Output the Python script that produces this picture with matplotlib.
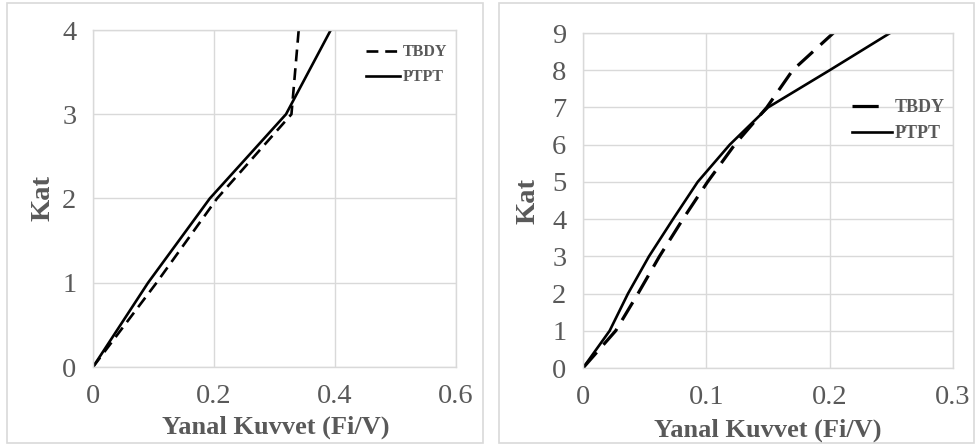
import matplotlib.pyplot as plt
from matplotlib.lines import Line2D
from matplotlib.patches import Rectangle

# ---- data ----
kat_4 = [0, 1, 2, 3, 4]
tbdy_4 = [0.0, 0.105, 0.205, 0.328, 0.340]
ptpt_4 = [0.0, 0.091, 0.193, 0.319, 0.393]

kat_9 = [0, 1, 2, 3, 4, 5, 6, 7, 8, 9]
tbdy_9 = [0.0, 0.0265, 0.0446, 0.062, 0.081, 0.101, 0.123, 0.149, 0.170, 0.203]
ptpt_9 = [0.0, 0.0216, 0.0365, 0.0535, 0.073, 0.093, 0.119, 0.150, 0.200, 0.249]

xticks_4 = [0, 0.2, 0.4, 0.6]
xticklabels_4 = ['0', '0.2', '0.4', '0.6']
xticks_9 = [0, 0.1, 0.2, 0.3]
xticklabels_9 = ['0', '0.1', '0.2', '0.3']

plt.rcParams['font.family'] = ['Liberation Serif', 'DejaVu Serif']

W, H = 975, 448
fig = plt.figure(figsize=(W / 100, H / 100), dpi=100)
fig.patch.set_facecolor('white')

text_gray = '#595959'
grid_gray = '#d9d9d9'


def px_axes(x0, y0, x1, y1):
    # pixel box (top-left origin) -> figure fraction rect
    return [x0 / W, 1 - y1 / H, (x1 - x0) / W, (y1 - y0) / H]


# panel borders
for bx0, bx1 in [(7, 483), (499, 974)]:
    fig.patches.append(Rectangle((bx0 / W, 1 - 443 / H), (bx1 - bx0) / W, 440 / H,
                                 transform=fig.transFigure, fill=False,
                                 edgecolor=grid_gray, linewidth=1.2))

ax1 = fig.add_axes(px_axes(93, 30, 456, 367))
ax2 = fig.add_axes(px_axes(583, 33, 953, 368))

ax1.plot(tbdy_4, kat_4, color='black', lw=1.9, linestyle=(0, (4.5, 2.6)), label='TBDY')
ax1.plot(ptpt_4, kat_4, color='black', lw=1.9, label='PTPT')
ax1.set_xlim(0, 0.6)
ax1.set_ylim(0, 4)
ax1.set_xticks(xticks_4)
ax1.set_xticklabels(xticklabels_4)
ax1.set_yticks(kat_4)

ax2.plot(tbdy_9, kat_9, color='black', lw=2.3, linestyle=(0, (6.5, 3.2)))
ax2.plot(ptpt_9, kat_9, color='black', lw=1.9)
ax2.set_xlim(0, 0.3)
ax2.set_ylim(0, 9)
ax2.set_xticks(xticks_9)
ax2.set_xticklabels(xticklabels_9)
ax2.set_yticks(kat_9)

for ax in (ax1, ax2):
    ax.grid(True, color=grid_gray, linewidth=1.0)
    ax.set_axisbelow(True)
    for s in ax.spines.values():
        s.set_color(grid_gray)
        s.set_linewidth(1.0)
    ax.tick_params(length=0, labelsize=20.5, labelcolor=text_gray, pad=12)

ax1.legend(loc='upper left', bbox_to_anchor=((360 - 93) / 363, 1 - (38 - 30) / 337),
           frameon=False, handlelength=2.1, handletextpad=0.15, labelspacing=0.55,
           borderaxespad=0, prop={'weight': 'bold', 'size': 11.5}, labelcolor=text_gray)

# legend handles for the right panel: one long dash, then a gap before the text
h_tbdy = Line2D([], [], color='black', lw=2.3, linestyle=(0, (8.2, 12)))
h_ptpt = Line2D([], [], color='black', lw=1.9)
ax2.legend([h_tbdy, h_ptpt], ['TBDY', 'PTPT'], loc='upper left',
           bbox_to_anchor=((845 - 583) / 370, 1 - (92 - 33) / 335),
           frameon=False, handlelength=2.2, handletextpad=0.15, labelspacing=0.5,
           borderaxespad=0, prop={'weight': 'bold', 'size': 13}, labelcolor=text_gray)

# axis titles
fig.text(275.5 / W, 1 - 427 / H, 'Yanal Kuvvet (Fi/V)', ha='center', va='center',
         fontsize=19, fontweight='bold', color=text_gray)
fig.text(768 / W, 1 - 430 / H, 'Yanal Kuvvet (Fi/V)', ha='center', va='center',
         fontsize=19, fontweight='bold', color=text_gray)
fig.text(43 / W, 1 - 198 / H, 'Kat', ha='center', va='center', rotation=90,
         fontsize=20.5, fontweight='bold', color=text_gray)
fig.text(528 / W, 1 - 201 / H, 'Kat', ha='center', va='center', rotation=90,
         fontsize=20.5, fontweight='bold', color=text_gray)

fig.savefig('out.png', dpi=100)
